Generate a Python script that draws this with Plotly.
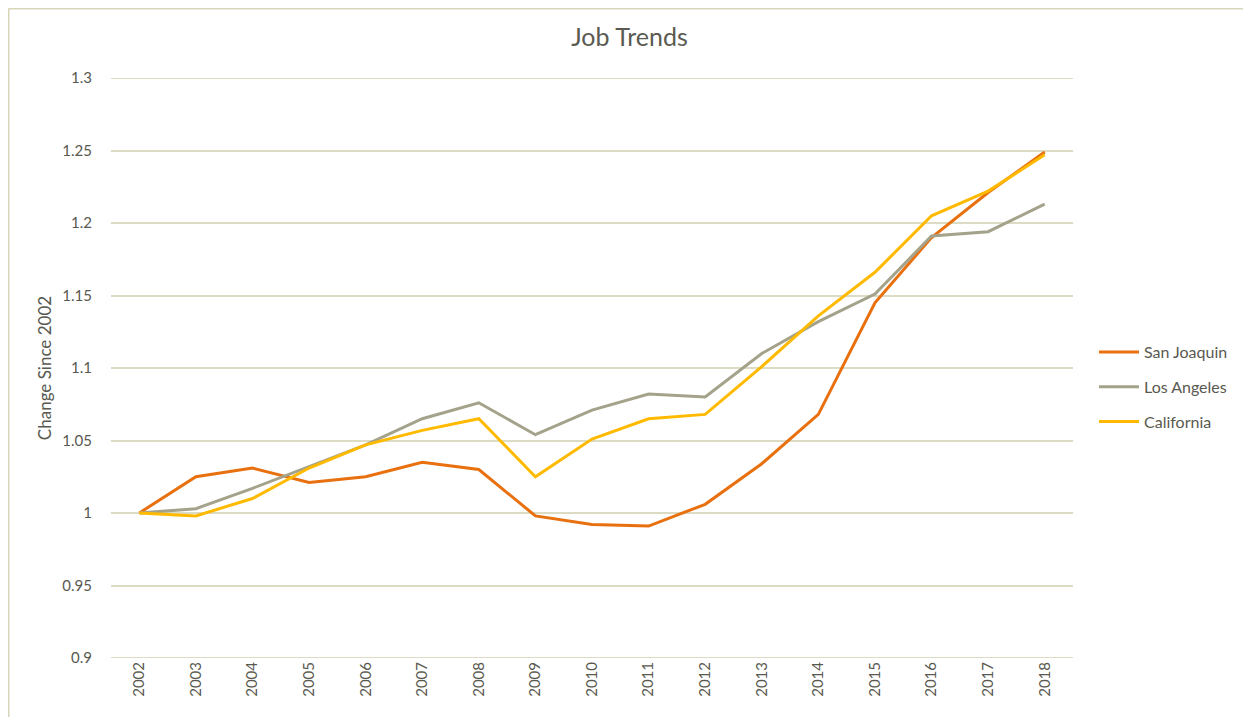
import plotly.graph_objects as go

years = [str(y) for y in range(2002, 2019)]
san_joaquin = [1.0, 1.025, 1.031, 1.021, 1.025, 1.035, 1.030, 0.998, 0.992, 0.991, 1.006,
               1.034, 1.068, 1.145, 1.190, 1.221, 1.249]
los_angeles = [1.0, 1.003, 1.017, 1.032, 1.047, 1.065, 1.076, 1.054, 1.071, 1.082, 1.080,
               1.110, 1.132, 1.151, 1.191, 1.194, 1.213]
california = [1.0, 0.998, 1.010, 1.031, 1.047, 1.057, 1.065, 1.025, 1.051, 1.065, 1.068,
              1.101, 1.136, 1.166, 1.205, 1.222, 1.247]
y_ticks = [0.9, 0.95, 1.0, 1.05, 1.1, 1.15, 1.2, 1.25, 1.3]
y_tick_text = ["0.9", "0.95", "1", "1.05", "1.1", "1.15", "1.2", "1.25", "1.3"]

series = [
    ("San Joaquin", san_joaquin, "#E8700F"),
    ("Los Angeles", los_angeles, "#A4A28A"),
    ("California", california, "#FFBA00"),
]

FONT = "Lato, 'Open Sans', sans-serif"
TXT = "#595950"
GRID = "#DCDBC4"

fig = go.Figure()
for name, vals, col in series:
    fig.add_trace(go.Scatter(x=years, y=vals, name=name, mode="lines", legendgroup=name,
                             line=dict(color=col, width=3)))

# page has an 8px body margin; compensate
OFF = 8
W, H = 1251 - OFF, 717 - OFF
PL, PR, PT, PB = 111, 1073, 78, 658   # plot area in page pixels
L = PL - OFF
T = PT - OFF
pw = PR - PL
ph = PB - PT
R = W - L - pw
B = H - T - ph

def px_x(p):
    return (p - PL) / pw

def px_y(p):
    return (PB - p) / ph

edge_grid = [
    dict(type="line", xref="paper", yref="y", x0=0, x1=1, y0=v, y1=v,
         line=dict(color=GRID, width=2), layer="below")
    for v in (y_ticks[0], y_ticks[-1])
]

fig.update_layout(
    width=W, height=H,
    margin=dict(l=L, r=R, t=T, b=B),
    paper_bgcolor="white", plot_bgcolor="white",
    font=dict(family=FONT, color=TXT, size=15),
    title=dict(text="Job Trends", x=0.5, xref="container", xanchor="center",
               y=1 - (37 - OFF) / H, yref="container", yanchor="middle",
               font=dict(size=25, color="#5a5a50", family=FONT)),
    showlegend=True,
    legend=dict(x=px_x(1094), y=px_y(387), xanchor="left", yanchor="middle",
                font=dict(size=16, color=TXT, family=FONT),
                tracegroupgap=11, itemwidth=40, bgcolor="rgba(0,0,0,0)"),
    xaxis=dict(type="category", tickangle=-90, showgrid=False, zeroline=False,
               showline=False, ticks="", tickfont=dict(size=15, color=TXT),
               range=[-0.5, len(years) - 0.5]),
    yaxis=dict(range=[0.9, 1.3], tickvals=y_ticks, ticktext=y_tick_text,
               showgrid=True, gridcolor=GRID, gridwidth=2, zeroline=False,
               showline=False, ticks="", ticklabelstandoff=18,
               tickfont=dict(size=15, color=TXT),
               title=dict(text="Change Since 2002", font=dict(size=17, color=TXT),
                          standoff=6)),
    shapes=edge_grid + [
        dict(type="line", xref="paper", yref="paper",
             x0=px_x(8.5), x1=px_x(1251), y0=px_y(8.5), y1=px_y(8.5),
             line=dict(color="#D8D6BA", width=2)),
        dict(type="line", xref="paper", yref="paper",
             x0=px_x(8.5), x1=px_x(8.5), y0=px_y(8.5), y1=px_y(717),
             line=dict(color="#D8D6BA", width=2)),
    ],
)

fig.write_html("out.html")
